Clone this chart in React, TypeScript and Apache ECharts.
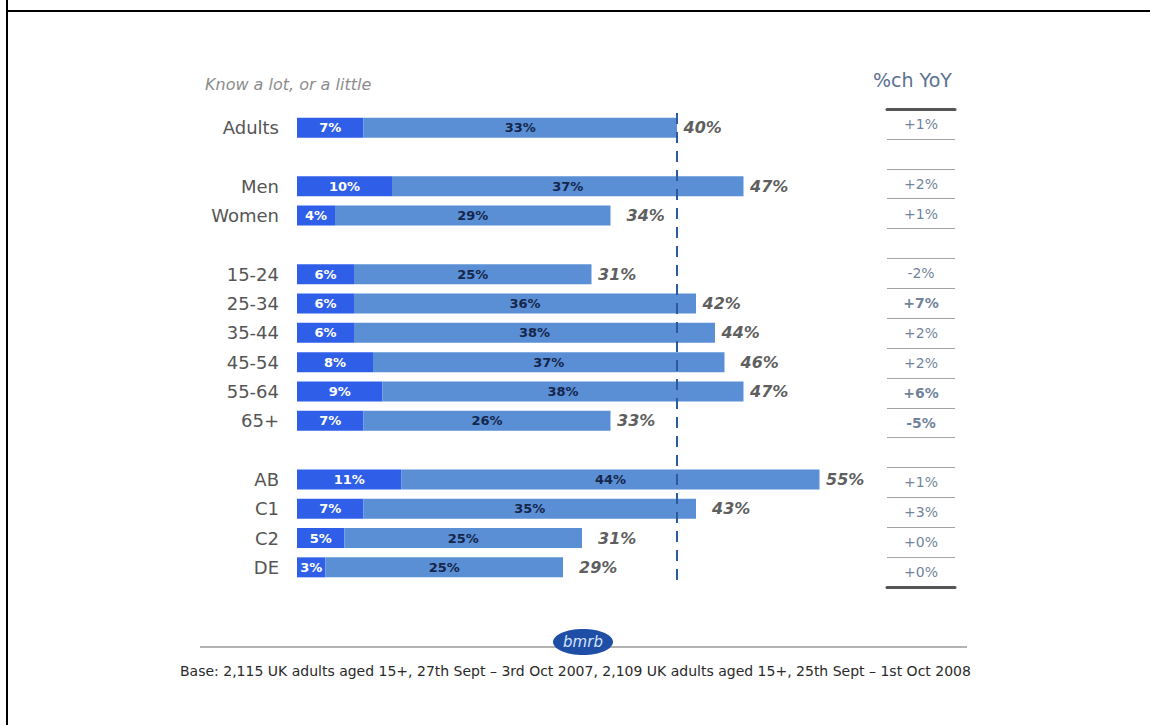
import React, { useEffect, useRef } from 'react';
import * as echarts from 'echarts';

const categories = ['Adults', ' ', 'Men', 'Women', '  ', '15-24', '25-34', '35-44', '45-54', '55-64', '65+', '   ', 'AB', 'C1', 'C2', 'DE'];
const knowALot = [7, null, 10, 4, null, 6, 6, 6, 8, 9, 7, null, 11, 7, 5, 3];
const knowALittle = [33, null, 37, 29, null, 25, 36, 38, 37, 38, 26, null, 44, 35, 25, 25];
const totals = [40, null, 47, 34, null, 31, 42, 44, 46, 47, 33, null, 55, 43, 31, 29];
const yoyChange = ['+1%', null, '+2%', '+1%', null, '-2%', '+7%', '+2%', '+2%', '+6%', '-5%', null, '+1%', '+3%', '+0%', '+0%'];
const titleText = 'Know a lot, or a little';
const yoyHeader = '%ch YoY';
const baseNote = 'Base: 2,115 UK adults aged 15+, 27th Sept \u2013 3rd Oct 2007, 2,109 UK adults aged 15+, 25th Sept \u2013 1st Oct 2008';
const logoText = 'bmrb';

const FONT = 'DejaVu Sans';
const DARK = '#2f5fe8';
const LIGHT = '#5a8fd6';
const boldRows = new Set(['25-34', '55-64', '65+']);

export default function App() {
  const ref = useRef<HTMLDivElement>(null);
  useEffect(() => {
    if (!ref.current) return;
    const chart = echarts.init(ref.current, null, { renderer: 'svg' });
    const gridTop = 113;
    const gridH = 469;
    const option: any = {
      animation: false,
      backgroundColor: '#ffffff',
      grid: [
        { left: 297, top: gridTop, width: 570, height: gridH },
        { left: 887, top: 109, width: 68, height: 478 },
      ],
      xAxis: [
        { type: 'value', gridIndex: 0, min: 0, max: 60, show: false },
        {
          type: 'value', gridIndex: 1, min: 0, max: 1, position: 'top',
          axisLine: { show: true, lineStyle: { color: '#555555', width: 3 } },
          axisTick: { show: false }, axisLabel: { show: false }, splitLine: { show: false },
        },
        {
          type: 'value', gridIndex: 1, min: 0, max: 1, position: 'bottom',
          axisLine: { show: true, lineStyle: { color: '#555555', width: 3 } },
          axisTick: { show: false }, axisLabel: { show: false }, splitLine: { show: false },
        },
      ],
      yAxis: [
        {
          type: 'category', gridIndex: 0, data: categories, inverse: true,
          axisLine: { show: false }, axisTick: { show: false },
          axisLabel: { color: '#555555', fontSize: 18, fontFamily: FONT, margin: 18 },
        },
        {
          type: 'category', gridIndex: 1, data: categories, inverse: true,
          axisLine: { show: false }, axisTick: { show: false }, axisLabel: { show: false },
          splitLine: { show: true, interval: 0, lineStyle: { color: '#a3a3a3', width: 1 } },
        },
      ],
      series: [
        {
          name: 'Know a lot', type: 'bar', stack: 'k', xAxisIndex: 0, yAxisIndex: 0,
          barWidth: 20,
          data: knowALot.map((v) => (v == null ? '-' : v)),
          itemStyle: { color: DARK },
          label: {
            show: true, position: 'inside', formatter: '{c}%',
            color: '#ffffff', fontSize: 13, fontWeight: 'bold', fontFamily: FONT,
          },
        },
        {
          name: 'Know a little', type: 'bar', stack: 'k', xAxisIndex: 0, yAxisIndex: 0,
          barWidth: 20,
          data: knowALittle.map((v) => (v == null ? '-' : v)),
          itemStyle: { color: LIGHT },
          label: {
            show: true, position: 'inside', formatter: '{c}%',
            color: '#16264a', fontSize: 13, fontWeight: 'bold', fontFamily: FONT,
          },
          markLine: {
            silent: true, symbol: 'none', label: { show: false },
            lineStyle: { color: '#2c5a9e', width: 2, type: [11, 8] },
            data: [{ xAxis: totals[0] }],
          },
        },
        {
          name: 'Total', type: 'scatter', xAxisIndex: 0, yAxisIndex: 0,
          symbolSize: 1, itemStyle: { color: 'rgba(0,0,0,0)' },
          data: totals.map((t, i) => (t == null ? null : [t, i])).filter(Boolean),
          label: {
            show: true, position: 'right', distance: 6,
            formatter: (p: any) => p.value[0] + '%',
            color: '#333333', fontSize: 16, fontWeight: 'bold', fontStyle: 'italic', fontFamily: FONT,
          },
        },
        {
          name: 'YoY', type: 'scatter', xAxisIndex: 1, yAxisIndex: 1,
          symbolSize: 1, itemStyle: { color: 'rgba(0,0,0,0)' },
          data: yoyChange
            .map((v, i) =>
              v == null
                ? null
                : {
                    value: [0.5, i],
                    name: v,
                    label: { fontWeight: boldRows.has(categories[i]) ? 'bold' : 'normal' },
                  }
            )
            .filter(Boolean),
          label: {
            show: true, position: 'inside',
            formatter: (p: any) => p.name,
            color: '#4a6080', fontSize: 14, fontFamily: FONT,
          },
        },
      ],
      graphic: [
        { type: 'line', shape: { x1: 7, y1: 0, x2: 7, y2: 725 }, style: { stroke: '#000', lineWidth: 2 } },
        { type: 'line', shape: { x1: 7, y1: 11, x2: 1150, y2: 11 }, style: { stroke: '#000', lineWidth: 2 } },
        {
          type: 'text', left: 205, top: 76,
          style: { text: titleText, fill: '#8c8c8c', font: 'italic 16px "DejaVu Sans"' },
        },
        {
          type: 'text', left: 873, top: 70,
          style: { text: yoyHeader, fill: '#5b7090', font: '19px "DejaVu Sans"' },
        },
        { type: 'line', shape: { x1: 200, y1: 647, x2: 967, y2: 647 }, style: { stroke: '#9a9a9a', lineWidth: 1.5 } },
        {
          type: 'ellipse', shape: { cx: 583, cy: 642, rx: 30, ry: 13 },
          style: { fill: '#1f4ea6' },
        },
        {
          type: 'text', x: 583, y: 642,
          style: { text: logoText, fill: '#d6e4ff', font: 'italic 15px "DejaVu Sans"', align: 'center', verticalAlign: 'middle' },
        },
        {
          type: 'text', left: 180, top: 664,
          style: { text: baseNote, fill: '#2a2a2a', font: '14px "DejaVu Sans"' },
        },
      ],
    };
    chart.setOption(option);
    return () => chart.dispose();
  }, []);
  return <div ref={ref} style={{ position: 'fixed', left: 0, top: 0, width: 1150, height: 725 }} />;
}
